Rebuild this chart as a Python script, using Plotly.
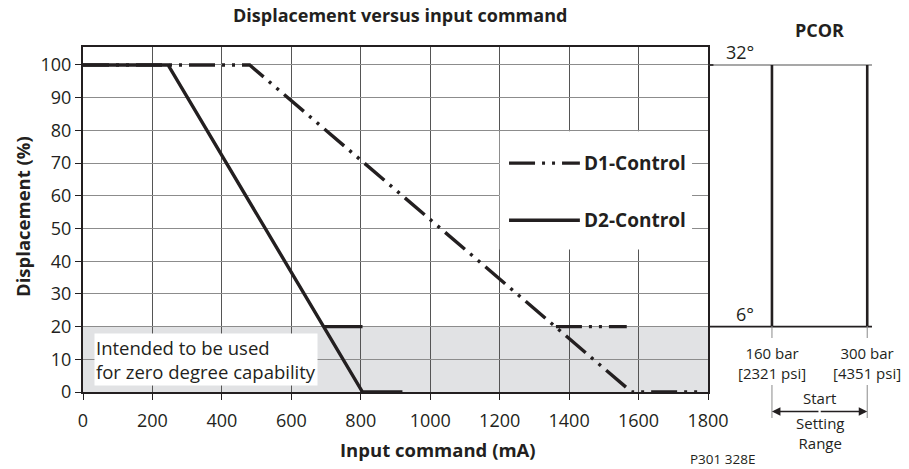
import plotly.graph_objects as go

# ---- chart data -------------------------------------------------------------
# D1 control: displacement (%) versus input command (mA)
d1_x = [0, 480, 1580, 1785]
d1_y = [100, 100, 0, 0]
d1_step_x = [1362, 1566]
d1_step_y = [20, 20]

# D2 control
d2_x = [0, 245, 805, 920]
d2_y = [100, 100, 0, 0]
d2_step_x = [693, 805]
d2_step_y = [20, 20]

x_ticks = [0, 200, 400, 600, 800, 1000, 1200, 1400, 1600, 1800]
y_ticks = [0, 10, 20, 30, 40, 50, 60, 70, 80, 90, 100]

zero_band = [0, 20]                      # displacement band for zero degree use
pcor_bar = [160, 300]                    # PCOR start setting range (bar)
pcor_psi = ["[2321 psi]", "[4351 psi]"]
pcor_angles = ["32°", "6°"]
pcor_levels = [100, 20]                  # displacement levels of the angle marks

# ---- styling ----------------------------------------------------------------
INK = "#231f20"
FONT = "Open Sans"
W, H = 909, 469
ML, MR, MT, MB = 83, 20, 47, 77
PLOT_W = W - ML - MR
PLOT_H = H - MT - MB
X_MAX = 1800
Y_MAX = 105.5
MAIN_FRAC = 625 / PLOT_W                 # main plot domain
P2_RANGE = [66, 332]                     # PCOR panel pressure axis (bar)


def py(px):
    """Pixel row -> paper y."""
    return (H - MB - px) / PLOT_H


def pxx(px):
    """Pixel column -> paper x."""
    return (px - ML) / PLOT_W


dash_d1 = "26px,7px,3px,7px,3px,7px"
lw = 3.4

fig = go.Figure()

fig.add_trace(go.Scatter(x=d1_x, y=d1_y, mode="lines",
                         line=dict(color=INK, width=lw, dash=dash_d1),
                         showlegend=False, hoverinfo="skip"))
fig.add_trace(go.Scatter(x=d1_step_x, y=d1_step_y, mode="lines",
                         line=dict(color=INK, width=lw, dash=dash_d1),
                         showlegend=False, hoverinfo="skip"))
fig.add_trace(go.Scatter(x=d2_x, y=d2_y, mode="lines",
                         line=dict(color=INK, width=lw),
                         showlegend=False, hoverinfo="skip"))
fig.add_trace(go.Scatter(x=d2_step_x, y=d2_step_y, mode="lines",
                         line=dict(color=INK, width=lw),
                         showlegend=False, hoverinfo="skip"))
# empty trace that hosts the PCOR panel axes
fig.add_trace(go.Scatter(x=[], y=[], xaxis="x2", yaxis="y2",
                         showlegend=False, hoverinfo="skip"))

shapes = []
# shaded zero-degree band
shapes.append(dict(type="rect", xref="x", yref="y", x0=0, x1=X_MAX,
                   y0=zero_band[0], y1=zero_band[1], layer="below",
                   fillcolor="#e1e2e4", line=dict(width=0)))
# legend box
shapes.append(dict(type="rect", xref="x", yref="y", x0=1200, x1=1754,
                   y0=43.6, y1=79.7, layer="between",
                   fillcolor="white", line=dict(width=0)))
# legend samples
shapes.append(dict(type="line", xref="x", yref="y", x0=1227, x1=1431,
                   y0=70, y1=70, line=dict(color=INK, width=lw, dash=dash_d1)))
shapes.append(dict(type="line", xref="x", yref="y", x0=1227, x1=1431,
                   y0=52.5, y1=52.5, line=dict(color=INK, width=lw)))

# PCOR panel: angle levels and pressure limits
shapes.append(dict(type="line", xref="x2", yref="y2", x0=P2_RANGE[0], x1=307,
                   y0=pcor_levels[0], y1=pcor_levels[0],
                   line=dict(color="#8a8a8a", width=1.6)))
shapes.append(dict(type="line", xref="x2", yref="y2", x0=P2_RANGE[0], x1=74,
                   y0=pcor_levels[0], y1=pcor_levels[0],
                   line=dict(color=INK, width=1.6)))
shapes.append(dict(type="line", xref="x2", yref="y2", x0=P2_RANGE[0], x1=307,
                   y0=pcor_levels[1], y1=pcor_levels[1],
                   line=dict(color=INK, width=1.6)))
for b in pcor_bar:
    shapes.append(dict(type="line", xref="x2", yref="y2", x0=b, x1=b,
                       y0=pcor_levels[1], y1=pcor_levels[0],
                       line=dict(color=INK, width=2.6)))
    shapes.append(dict(type="line", xref="x2", yref="paper", x0=b, x1=b,
                       y0=py(326), y1=py(338),
                       line=dict(color="#8a8a8a", width=1)))
    shapes.append(dict(type="line", xref="x2", yref="paper", x0=b, x1=b,
                       y0=py(385), y1=py(418),
                       line=dict(color="#8a8a8a", width=1)))

ann = []
# titles
ann.append(dict(text="<b>Displacement versus input command</b>", xref="paper", yref="paper",
                x=pxx(400), y=py(15), showarrow=False, xanchor="center", yanchor="middle",
                font=dict(size=18, color=INK, family=FONT)))
ann.append(dict(text="<b>Input command (mA)</b>", xref="paper", yref="paper",
                x=pxx(438), y=py(449), showarrow=False, xanchor="center", yanchor="middle",
                font=dict(size=18.5, color=INK, family=FONT)))
ann.append(dict(text="<b>Displacement (%)</b>", xref="paper", yref="paper",
                x=pxx(22), y=py(216), showarrow=False, textangle=-90,
                xanchor="center", yanchor="middle",
                font=dict(size=18.5, color=INK, family=FONT)))
# legend labels
ann.append(dict(text="<b>D1-Control</b>", xref="x", yref="y", x=1438, y=70,
                showarrow=False, xanchor="left", yanchor="middle",
                font=dict(size=19, color=INK, family=FONT)))
ann.append(dict(text="<b>D2-Control</b>", xref="x", yref="y", x=1438, y=52.5,
                showarrow=False, xanchor="left", yanchor="middle",
                font=dict(size=19, color=INK, family=FONT)))
# zero degree note
ann.append(dict(text="Intended to be used<br>for zero degree capability",
                xref="x", yref="y", x=32, y=9.8, showarrow=False,
                xanchor="left", yanchor="middle", align="left",
                bgcolor="white", borderpad=1,
                font=dict(size=18.5, color=INK, family=FONT)))
# PCOR panel text
mid_bar = (pcor_bar[0] + pcor_bar[1]) / 2
ann.append(dict(text="<b>PCOR</b>", xref="x2", yref="paper", x=mid_bar, y=py(30),
                showarrow=False, xanchor="center", yanchor="middle",
                font=dict(size=18, color=INK, family=FONT)))
for lbl, lvl, ypx in zip(pcor_angles, pcor_levels, [52, 314]):
    ann.append(dict(text=lbl, xref="x2", yref="paper", x=137, y=py(ypx),
                    showarrow=False, xanchor="right", yanchor="middle",
                    font=dict(size=18, color=INK, family=FONT)))
for b, psi in zip(pcor_bar, pcor_psi):
    ann.append(dict(text=f"{b} bar<br>{psi}", xref="x2", yref="paper", x=b, y=py(362.5),
                    showarrow=False, xanchor="center", yanchor="middle",
                    font=dict(size=15, color=INK, family=FONT)))
ann.append(dict(text="Start", xref="x2", yref="paper", x=mid_bar, y=py(398),
                showarrow=False, xanchor="center", yanchor="middle",
                font=dict(size=15, color=INK, family=FONT)))
ann.append(dict(text="Setting<br>Range", xref="x2", yref="paper", x=mid_bar, y=py(433),
                showarrow=False, xanchor="center", yanchor="middle",
                font=dict(size=15, color=INK, family=FONT)))
# start setting range arrows
for b, dx in [(pcor_bar[0], 48), (pcor_bar[1], -48)]:
    ann.append(dict(text="", xref="x2", yref="paper", x=b, y=py(411.5),
                    ax=dx, ay=0, showarrow=True, arrowhead=2, arrowsize=1.3,
                    arrowwidth=1.3, arrowcolor=INK, standoff=0))
ann.append(dict(text="P301 328E", xref="paper", yref="paper", x=pxx(688), y=py(459),
                showarrow=False, xanchor="left", yanchor="middle",
                font=dict(size=13.5, color=INK, family=FONT)))

fig.update_layout(
    width=W, height=H, autosize=False,
    margin=dict(l=ML, r=MR, t=MT, b=MB, autoexpand=False),
    paper_bgcolor="white", plot_bgcolor="white",
    font=dict(family=FONT, color=INK),
    shapes=shapes, annotations=ann,
    xaxis=dict(domain=[0, MAIN_FRAC], range=[0, X_MAX], tickvals=x_ticks,
               ticks="outside", ticklen=6, tickcolor=INK, tickwidth=1,
               ticklabelstandoff=6,
               tickfont=dict(size=18, color=INK, family=FONT),
               showgrid=True, gridcolor="#555555", gridwidth=1,
               showline=True, linecolor=INK, linewidth=1.5, mirror=True,
               zeroline=False, fixedrange=True, automargin=False),
    yaxis=dict(range=[0, Y_MAX], tickvals=y_ticks,
               ticks="outside", ticklen=6, tickcolor=INK, tickwidth=1,
               tickfont=dict(size=18, color=INK, family=FONT),
               showgrid=True, gridcolor="#8c8c8c", gridwidth=1,
               showline=True, linecolor=INK, linewidth=2, mirror=True,
               zeroline=False, fixedrange=True, automargin=False),
    xaxis2=dict(domain=[MAIN_FRAC, 1], range=P2_RANGE, anchor="y2",
                visible=False, showgrid=False, zeroline=False, automargin=False),
    yaxis2=dict(range=[0, Y_MAX], anchor="x2", visible=False,
                showgrid=False, zeroline=False, automargin=False),
)

fig.write_html("out.html", config={"responsive": False})
